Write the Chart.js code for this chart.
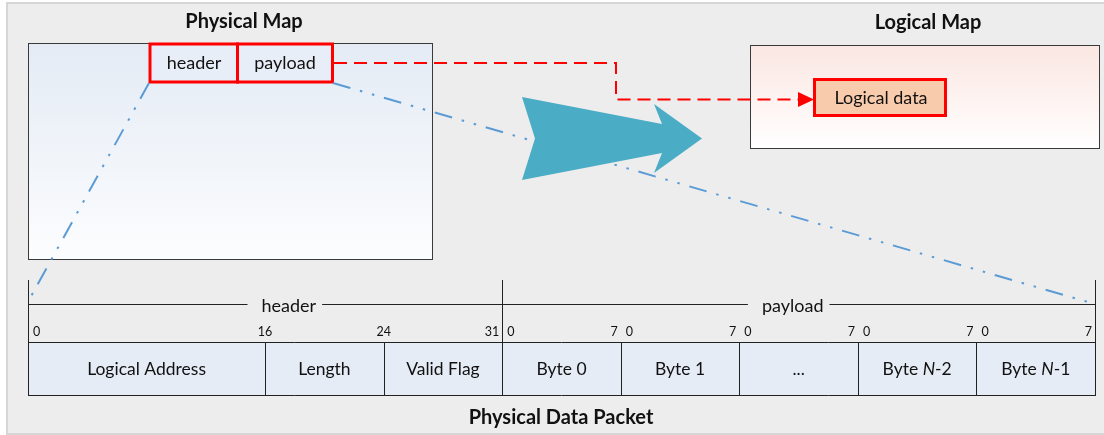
<!DOCTYPE html>
<html>
<head>
<meta charset="utf-8">
<script src="https://cdn.jsdelivr.net/npm/chart.js@4.4.1/dist/chart.umd.min.js"></script>
<style>
html, body { margin: 0; padding: 0; background: #fff; }
#wrap { width: 1104px; height: 435px; position: relative; }
</style>
</head>
<body>
<div id="wrap"><canvas id="chart"></canvas></div>
<script>
// Packet fields and their width in bits
const fieldNames = ['Logical Address', 'Length', 'Valid Flag', 'Byte 0', 'Byte 1', '...', 'Byte N-2', 'Byte N-1'];
const fieldBits = [16, 8, 8, 8, 8, 8, 8, 8];

// Bit index labels above the packet row
const bitLabels = ['0', '16', '24', '31', '0', '7', '0', '7', '0', '7', '0', '7', '0', '7'];
const bitLabelAt = [0, 16, 24, 32, 32, 40, 40, 48, 48, 56, 56, 64, 64, 72];
const bitLabelAlign = ['left', 'center', 'center', 'right', 'left', 'right', 'left', 'right',
    'left', 'right', 'left', 'right', 'left', 'right'];

// Header / payload brackets
const groupNames = ['header', 'payload'];
const groupBits = [32, 40];
const groupLabelPos = [0.55, 0.49];

const titles = ['Physical Map', 'Logical Map', 'Physical Data Packet'];
const mapLabels = ['header', 'payload', 'Logical data'];

const FONT = 'Lato, "Open Sans", sans-serif';
const totalBits = fieldBits.reduce((a, b) => a + b, 0);

function text(ctx, str, x, y, size, bold, align) {
    ctx.font = (bold ? 'bold ' : '') + size + 'px ' + FONT;
    ctx.textAlign = align || 'center';
    ctx.textBaseline = 'middle';
    ctx.fillStyle = '#111';
    ctx.fillText(str, x, y);
}

// draws "Byte N-2" with an italic N, centred on x
function richLabel(ctx, str, x, y, size) {
    const parts = str.split(/(N)/).filter(p => p.length);
    const fonts = parts.map(p => (p === 'N' ? 'italic ' : '') + size + 'px ' + FONT);
    let w = 0;
    const widths = parts.map((p, i) => { ctx.font = fonts[i]; const m = ctx.measureText(p).width; w += m; return m; });
    let cx = x - w / 2;
    ctx.textAlign = 'left';
    ctx.textBaseline = 'middle';
    ctx.fillStyle = '#111';
    parts.forEach((p, i) => { ctx.font = fonts[i]; ctx.fillText(p, cx, y); cx += widths[i]; });
}

function gradBox(ctx, x, y, w, h, c1, c2) {
    const g = ctx.createLinearGradient(0, y, 0, y + h);
    g.addColorStop(0, c1);
    g.addColorStop(1, c2);
    ctx.fillStyle = g;
    ctx.fillRect(x, y, w, h);
    ctx.strokeStyle = '#3a3a3a';
    ctx.lineWidth = 1;
    ctx.strokeRect(x + 0.5, y + 0.5, w, h);
}

const diagram = {
    id: 'diagram',
    beforeDraw(chart) {
        const ctx = chart.ctx;
        ctx.save();
        ctx.fillStyle = '#fff';
        ctx.fillRect(0, 0, chart.width, chart.height);
        ctx.fillStyle = '#ededed';
        ctx.fillRect(7, 3, 1104, 431);
        ctx.strokeStyle = '#d6d6d6';
        ctx.lineWidth = 2;
        ctx.strokeRect(7, 3, 1104, 431);

        // map boxes
        gradBox(ctx, 28, 43, 404, 216, '#e4ebf5', '#fcfdfe');
        gradBox(ctx, 750, 45, 349, 103, '#fbe6e2', '#ffffff');

        text(ctx, titles[0], 244, 22, 20, true);
        text(ctx, titles[1], 928, 23, 20, true);
        text(ctx, titles[2], 561, 418, 20, true);
        ctx.restore();
    },
    afterDatasetsDraw(chart) {
        const ctx = chart.ctx;
        const x = chart.scales.x;
        const px = v => x.getPixelForValue(v);
        const top = chart.chartArea.top, bottom = chart.chartArea.bottom;
        ctx.save();

        // field borders
        const edges = [0];
        fieldBits.forEach(b => edges.push(edges[edges.length - 1] + b));
        ctx.strokeStyle = '#222';
        ctx.lineWidth = 1;
        ctx.beginPath();
        ctx.moveTo(px(0), top + 0.5); ctx.lineTo(px(totalBits), top + 0.5);
        ctx.moveTo(px(0), bottom + 0.5); ctx.lineTo(px(totalBits), bottom + 0.5);
        edges.forEach(e => {
            const xx = Math.round(px(e)) + 0.5;
            ctx.moveTo(xx, top); ctx.lineTo(xx, bottom + 1);
        });
        // bracket ticks and line
        const gEdges = [0];
        groupBits.forEach(b => gEdges.push(gEdges[gEdges.length - 1] + b));
        gEdges.forEach(e => {
            const xx = Math.round(px(e)) + 0.5;
            ctx.moveTo(xx, top - 62); ctx.lineTo(xx, top);
        });
        const by = top - 38 + 0.5;
        ctx.font = '18px ' + FONT;
        let lineStart = px(0);
        groupNames.forEach((g, i) => {
            const cx = px(gEdges[i] + groupBits[i] * groupLabelPos[i]);
            const w = ctx.measureText(g).width;
            ctx.moveTo(lineStart, by); ctx.lineTo(cx - w / 2 - 14, by);
            lineStart = cx + w / 2 + 6;
        });
        ctx.moveTo(lineStart, by); ctx.lineTo(px(totalBits), by);
        ctx.stroke();

        groupNames.forEach((g, i) => {
            text(ctx, g, px(gEdges[i] + groupBits[i] * groupLabelPos[i]), top - 36, 18, false);
        });

        // bit indices
        bitLabels.forEach((b, i) => {
            const a = bitLabelAlign[i];
            const off = a === 'left' ? 5 : a === 'right' ? -3 : 0;
            text(ctx, b, px(bitLabelAt[i]) + off, top - 10, 12.5, false, a);
        });

        // field names
        fieldNames.forEach((n, i) => {
            richLabel(ctx, n, (px(edges[i]) + px(edges[i + 1])) / 2, (top + bottom) / 2 + 1, 17.5);
        });

        // header / payload boxes in the physical map
        ctx.fillStyle = '#e8eef7';
        ctx.fillRect(150, 44, 182, 38);
        ctx.strokeStyle = '#ff0000';
        ctx.lineWidth = 3;
        ctx.strokeRect(150, 44, 87.5, 38);
        ctx.strokeRect(237.5, 44, 95, 38);
        text(ctx, mapLabels[0], 194, 63, 18, false);
        text(ctx, mapLabels[1], 285, 63, 18, false);

        // dash-dot projection lines
        ctx.strokeStyle = '#5b9bd5';
        ctx.lineWidth = 2;
        ctx.setLineDash([18, 10, 2.5, 10, 2.5, 10]);
        ctx.beginPath();
        ctx.moveTo(149, 83); ctx.lineTo(px(0) + 1, top - 42);
        ctx.moveTo(333, 83); ctx.lineTo(px(totalBits), top - 38);
        ctx.stroke();
        ctx.setLineDash([]);

        // big arrow
        ctx.fillStyle = '#4bacc6';
        ctx.beginPath();
        [[522, 97], [662, 124], [654, 104], [702, 138.5], [654, 173], [662, 153], [522, 180], [535, 138.5]]
            .forEach((p, i) => i ? ctx.lineTo(p[0], p[1]) : ctx.moveTo(p[0], p[1]));
        ctx.closePath();
        ctx.fill();

        // red dashed link
        ctx.strokeStyle = '#ff0000';
        ctx.lineWidth = 2;
        ctx.setLineDash([13, 7]);
        ctx.beginPath();
        ctx.moveTo(334, 63); ctx.lineTo(616, 63); ctx.lineTo(616, 99.5); ctx.lineTo(800, 99.5);
        ctx.stroke();
        ctx.setLineDash([]);
        ctx.fillStyle = '#ff0000';
        ctx.beginPath();
        ctx.moveTo(798, 92); ctx.lineTo(814, 99.5); ctx.lineTo(798, 107); ctx.closePath();
        ctx.fill();

        // logical data box
        ctx.fillStyle = '#f8cbad';
        ctx.fillRect(814.5, 79.5, 131, 36);
        ctx.strokeStyle = '#ff0000';
        ctx.lineWidth = 3;
        ctx.strokeRect(814.5, 79.5, 131, 36);
        text(ctx, mapLabels[2], 881, 98, 18, false);

        ctx.restore();
    }
};

new Chart(document.getElementById('chart'), {
    type: 'bar',
    data: {
        labels: ['packet'],
        datasets: fieldNames.map((name, i) => ({
            label: name,
            data: [fieldBits[i]],
            backgroundColor: '#e6ecf6',
            borderWidth: 0,
            barPercentage: 1,
            categoryPercentage: 1,
            stack: 'packet'
        }))
    },
    options: {
        indexAxis: 'y',
        responsive: true,
        maintainAspectRatio: false,
        animation: false,
        layout: { padding: { left: 28, right: 9, top: 342, bottom: 40 } },
        scales: {
            x: { type: 'linear', min: 0, max: totalBits, stacked: true, display: false },
            y: { stacked: true, display: false }
        },
        plugins: {
            legend: { display: false },
            tooltip: { enabled: false }
        }
    },
    plugins: [diagram]
});
</script>
</body>
</html>
